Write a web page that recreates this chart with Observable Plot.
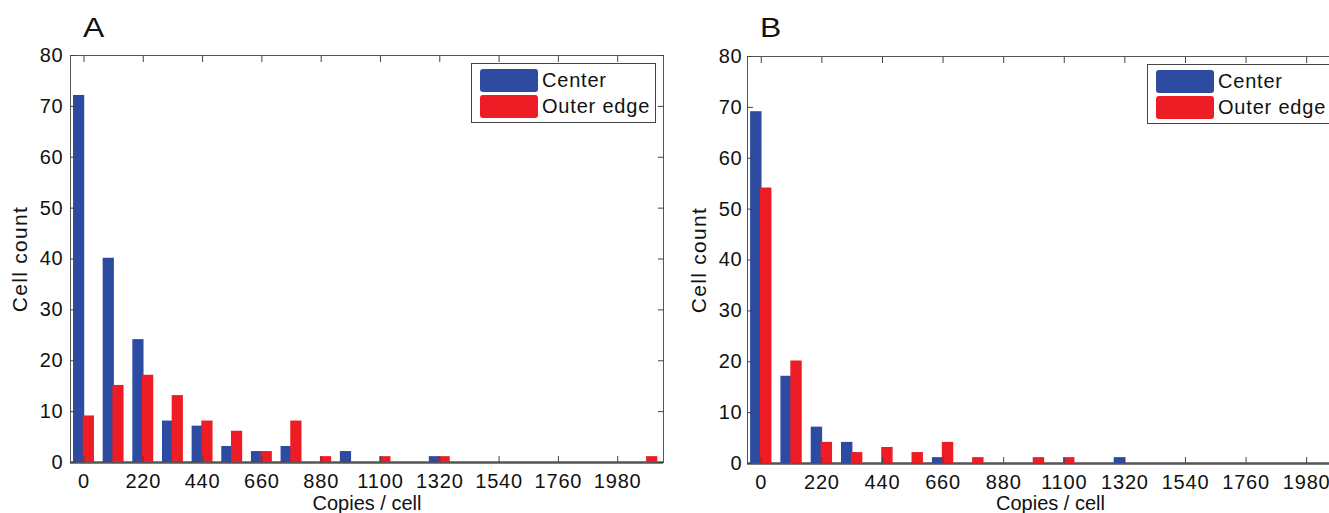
<!DOCTYPE html>
<html>
<head>
<meta charset="utf-8">
<script src="https://cdn.jsdelivr.net/npm/d3@7"></script>
<script src="https://cdn.jsdelivr.net/npm/@observablehq/plot@0.6"></script>
<style>
  html, body { margin: 0; padding: 0; background: #fff; overflow: hidden; width: 1329px; height: 513px; }
  .panel { position: absolute; top: 0; }
  .panel svg { max-width: none !important; overflow: visible; }
  .panel svg g[aria-label="y-axis label"] text { font-size: 21px; letter-spacing: 1.3px; }
  .panel svg g[aria-label="x-axis label"] text { font-size: 20px; }
  .panel svg g[aria-label="x-axis tick label"] text,
  .panel svg g[aria-label="y-axis tick label"] text { letter-spacing: 0.8px; }
  .title { position: absolute; font-family: "Liberation Sans", Arial, sans-serif; font-size: 27px; line-height: 27px; color: #111; transform: scaleX(1.18); transform-origin: left top; }
  .legend { position: absolute; background: #fff; border: 1px solid #444; font-family: "Liberation Sans", Arial, sans-serif; font-size: 20px; letter-spacing: 0.8px; color: #111; }
  .legend .row { position: absolute; left: 8px; height: 23px; display: flex; align-items: center; white-space: nowrap; }
  .legend .sw { width: 58px; height: 23px; border-radius: 3px; margin-right: 4px; }
</style>
</head>
<body>
<div id="A" class="panel" style="left:0px;width:680px;height:513px;"></div>
<div id="B" class="panel" style="left:680px;width:690px;height:513px;"></div>
<script>
// ---- data ----
const bins = [0, 110, 220, 330, 440, 550, 660, 770, 880, 990, 1100, 1210, 1320, 1430, 1540, 1650, 1760, 1870, 1980, 2090];
const centerA = [72, 40, 24, 8, 7, 3, 2, 3, 0, 2, 0, 0, 1, 0, 0, 0, 0, 0, 0, 0];
const outerA  = [9, 15, 17, 13, 8, 6, 2, 8, 1, 0, 1, 0, 1, 0, 0, 0, 0, 0, 0, 1];
const centerB = [69, 17, 7, 4, 0, 0, 1, 0, 0, 0, 0, 0, 1, 0, 0, 0, 0, 0, 0, 0];
const outerB  = [54, 20, 4, 2, 3, 2, 4, 1, 0, 1, 1, 0, 0, 0, 0, 0, 0, 0, 0, 0];
const xTicks = [0, 220, 440, 660, 880, 1100, 1320, 1540, 1760, 1980];
const yTicks = [0, 10, 20, 30, 40, 50, 60, 70, 80];
const seriesNames = ["Center", "Outer edge"];
const panelTitles = ["A", "B"];
const xLabel = "Copies / cell";
const yLabel = "Cell count";

const BLUE = "#2d4ba1";
const RED = "#ee1c25";
const FONT = "'Liberation Sans', Arial, Helvetica, sans-serif";

function panel(center, outer, cfg) {
  const rows = bins.map((b, i) => ({bin: b, center: center[i], outer: outer[i]}));
  const hw = 36;
  return Plot.plot({
    width: cfg.width,
    height: 513,
    marginLeft: cfg.ml,
    marginRight: cfg.mr,
    marginTop: cfg.mt,
    marginBottom: cfg.mb,
    style: {fontFamily: FONT, fontSize: "20px", color: "#111", background: "transparent", overflow: "visible"},
    x: {domain: [-50, 2150], ticks: xTicks},
    y: {domain: [0, 80], ticks: yTicks},
    marks: [
      Plot.ruleY([0], {stroke: "#000", strokeWidth: 2}),
      Plot.rectY(rows, {x1: d => d.bin - hw, x2: d => d.bin, y: "center", fill: BLUE, stroke: BLUE, strokeWidth: 1.5}),
      Plot.rectY(rows, {x1: d => d.bin, x2: d => d.bin + hw, y: "outer", fill: RED, stroke: RED, strokeWidth: 1.5}),
      Plot.frame({stroke: "#555", strokeWidth: 1}),
      Plot.axisX(xTicks, {anchor: "bottom", tickSize: -6, tickPadding: 17, stroke: "#444", tickFormat: d => String(d),
        label: xLabel, labelAnchor: "center", labelArrow: "none", labelOffset: cfg.xlo}),
      Plot.axisX(xTicks, {anchor: "top", tickSize: -6, tickFormat: () => "", label: null, stroke: "#444"}),
      Plot.axisY(yTicks, {anchor: "left", tickSize: -6, tickPadding: cfg.ytp, stroke: "#444", tickFormat: d => String(d),
        label: yLabel, labelAnchor: "center", labelArrow: "none", labelOffset: cfg.ylo}),
      Plot.axisY(yTicks, {anchor: "right", tickSize: -6, tickFormat: () => "", label: null, stroke: "#444"})
    ]
  });
}

document.getElementById("A").appendChild(panel(centerA, outerA, {width: 680, ml: 70, mr: 17, mt: 55, mb: 51, xlo: 47, ylo: 58, ytp: 13}));
document.getElementById("B").appendChild(panel(centerB, outerB, {width: 690, ml: 67, mr: 17, mt: 56, mb: 50, xlo: 46, ylo: 56, ytp: 11}));

function addTitle(text, left, top) {
  const d = document.createElement("div");
  d.className = "title";
  d.textContent = text;
  d.style.left = left + "px";
  d.style.top = top + "px";
  document.body.appendChild(d);
}
addTitle(panelTitles[0], 83, 15);
addTitle(panelTitles[1], 760, 15);

function addLegend(left, top) {
  const lg = document.createElement("div");
  lg.className = "legend";
  lg.style.left = left + "px";
  lg.style.top = top + "px";
  lg.style.width = "183px";
  lg.style.height = "58px";
  [BLUE, RED].forEach((c, i) => {
    const r = document.createElement("div");
    r.className = "row";
    r.style.top = (5 + i * 26) + "px";
    const sw = document.createElement("div");
    sw.className = "sw";
    sw.style.background = c;
    const t = document.createElement("span");
    t.textContent = seriesNames[i];
    r.appendChild(sw);
    r.appendChild(t);
    lg.appendChild(r);
  });
  document.body.appendChild(lg);
}
addLegend(471, 63);
addLegend(1147, 64);
</script>
</body>
</html>
